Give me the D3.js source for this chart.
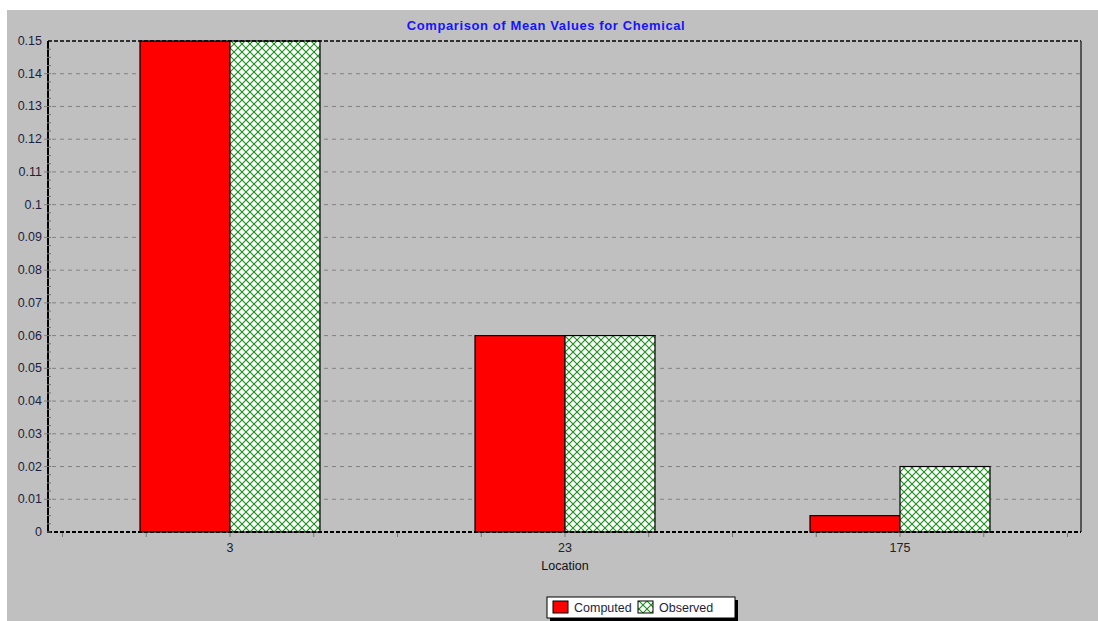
<!DOCTYPE html>
<html>
<head>
<meta charset="utf-8">
<script src="https://d3js.org/d3.v7.min.js"></script>
<style>
  body { margin: 0; background: #fff; }
  text { font-family: "Liberation Sans", Arial, sans-serif; }
</style>
</head>
<body>
<div id="chart"></div>
<script>
const locations = ["3", "23", "175"];
const series = ["Computed", "Observed"];
const computed = [0.15, 0.06, 0.005];
const observed = [0.15, 0.06, 0.02];
const yTicks = [0, 0.01, 0.02, 0.03, 0.04, 0.05, 0.06, 0.07, 0.08, 0.09, 0.1, 0.11, 0.12, 0.13, 0.14, 0.15];

const W = 1098, H = 621;
const plot = {left: 48, top: 41, right: 1081, bottom: 532};

const svg = d3.select("#chart").append("svg")
    .attr("width", W)
    .attr("height", H);

// hatch for observed bars
const defs = svg.append("defs");
const pat = defs.append("pattern")
    .attr("id", "hatch")
    .attr("patternUnits", "userSpaceOnUse")
    .attr("width", 8).attr("height", 8);
pat.append("rect").attr("width", 8).attr("height", 8).attr("fill", "#fff");
pat.append("path")
    .attr("d", "M0,0L8,8M8,0L0,8")
    .attr("stroke", "#159015")
    .attr("stroke-width", 1.1);

// grey panel
svg.append("rect")
    .attr("x", 7).attr("y", 10)
    .attr("width", W - 7).attr("height", H - 10)
    .attr("fill", "#c0c0c0");

const x = d3.scalePoint()
    .domain(locations)
    .range([62.5, 1067.5])
    .padding(0.5);

const x1 = d3.scaleBand()
    .domain(series)
    .range([-90, 90]);

const y = d3.scaleLinear()
    .domain([0, 0.15])
    .range([plot.bottom, plot.top]);

// gridlines
svg.append("g")
    .selectAll("line")
    .data(yTicks.slice(1, -1))
    .join("line")
    .attr("x1", plot.left - 4).attr("x2", plot.right)
    .attr("y1", d => y(d)).attr("y2", d => y(d))
    .attr("stroke", "#808080")
    .attr("stroke-dasharray", "4,4");

// y labels
svg.append("g")
    .selectAll("text")
    .data(yTicks)
    .join("text")
    .attr("x", plot.left - 6)
    .attr("y", d => y(d) + 4)
    .attr("text-anchor", "end")
    .attr("font-size", "12.5px")
    .attr("fill", "#1e1e3c")
    .text(d => d3.format("")(+d.toFixed(2)));

// bars
const data = locations.map((loc, i) => ({loc, values: [
    {key: "Computed", v: computed[i]},
    {key: "Observed", v: observed[i]}
]}));

svg.append("g")
    .selectAll("g")
    .data(data)
    .join("g")
    .attr("transform", d => `translate(${x(d.loc)},0)`)
    .selectAll("rect")
    .data(d => d.values)
    .join("rect")
    .attr("x", d => x1(d.key))
    .attr("width", x1.bandwidth())
    .attr("y", d => y(d.v))
    .attr("height", d => y(0) - y(d.v))
    .attr("fill", d => d.key == "Computed" ? "#ff0000" : "url(#hatch)")
    .attr("stroke", "#000")
    .attr("stroke-width", 1.2);

// frame
svg.append("line")
    .attr("x1", plot.left).attr("x2", plot.right)
    .attr("y1", plot.top).attr("y2", plot.top)
    .attr("stroke", "#000").attr("stroke-width", 1.5)
    .attr("stroke-dasharray", "4,2");
svg.append("line")
    .attr("x1", plot.right).attr("x2", plot.right)
    .attr("y1", plot.top).attr("y2", plot.bottom)
    .attr("stroke", "#333").attr("stroke-width", 1.5);
svg.append("line")
    .attr("x1", plot.left).attr("x2", plot.right)
    .attr("y1", plot.bottom).attr("y2", plot.bottom)
    .attr("stroke", "#000").attr("stroke-width", 2)
    .attr("stroke-dasharray", "4,2");
svg.append("line")
    .attr("x1", plot.left).attr("x2", plot.left)
    .attr("y1", plot.top).attr("y2", plot.bottom + 1)
    .attr("stroke", "#000").attr("stroke-width", 2);

// y minor ticks
svg.append("g")
    .selectAll("line")
    .data(d3.range(0, 0.15, 0.0025))
    .join("line")
    .attr("x1", plot.left - 1).attr("x2", plot.left + 3)
    .attr("y1", d => y(d)).attr("y2", d => y(d))
    .attr("stroke", "#777");

// x minor ticks at quarter steps
const step = x.step();
svg.append("g")
    .selectAll("line")
    .data(d3.range(13))
    .join("line")
    .attr("x1", i => x(locations[0]) - step / 2 + i * step / 4)
    .attr("x2", i => x(locations[0]) - step / 2 + i * step / 4)
    .attr("y1", plot.bottom + 1).attr("y2", plot.bottom + 5)
    .attr("stroke", "#777");

// x labels
svg.append("g")
    .selectAll("text")
    .data(locations)
    .join("text")
    .attr("x", d => x(d))
    .attr("y", plot.bottom + 20)
    .attr("text-anchor", "middle")
    .attr("font-size", "12.5px")
    .attr("fill", "#222")
    .text(d => d);

svg.append("text")
    .attr("x", x("23"))
    .attr("y", plot.bottom + 38)
    .attr("text-anchor", "middle")
    .attr("font-size", "12.5px")
    .attr("fill", "#111")
    .text("Location");

// title
svg.append("text")
    .attr("x", 546)
    .attr("y", 30)
    .attr("text-anchor", "middle")
    .attr("font-size", "13px")
    .attr("letter-spacing", "0.6px")
    .attr("font-weight", "bold")
    .attr("fill", "#1515ff")
    .text("Comparison of Mean Values for Chemical");

// legend
const lg = svg.append("g").attr("transform", "translate(547,597)");
lg.append("rect").attr("x", 3).attr("y", 3).attr("width", 188).attr("height", 21).attr("fill", "#000");
lg.append("rect").attr("width", 188).attr("height", 21).attr("fill", "#fff").attr("stroke", "#000");
const items = [{key: "Computed", x: 6, tx: 27}, {key: "Observed", x: 91, tx: 112}];
items.forEach(it => {
    lg.append("rect")
        .attr("x", it.x).attr("y", 4)
        .attr("width", 15).attr("height", 12)
        .attr("fill", it.key == "Computed" ? "#ff0000" : "url(#hatch)")
        .attr("stroke", "#000");
    lg.append("text")
        .attr("x", it.tx).attr("y", 15)
        .attr("font-size", "12.5px")
        .attr("fill", "#1e1e3c")
        .text(it.key);
});
</script>
</body>
</html>
